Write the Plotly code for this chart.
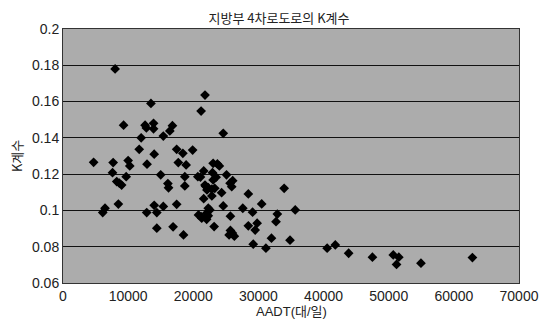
import plotly.graph_objects as go

title_text = "지방부 4차로도로의 K계수"
x_title = "AADT(대/일)"
y_title = "K계수"

aadt = [4700, 6100, 6450, 7700, 7600, 8000, 8250, 8650, 9000, 8500,
        9300, 9700, 10000, 10250, 11700, 12000, 12600, 12800, 12900, 12850,
        13500, 13900, 13900, 14000, 14000, 14400, 14400, 15000, 15400, 15400,
        16100, 16200, 16400, 16800, 16900, 17450, 17700, 17450, 18400, 18500,
        18700, 18700, 18900, 19900, 20700, 21100, 21200, 21800, 21600, 21900,
        21600, 21300, 22050, 22300, 22300, 22050, 22550, 21800, 22300, 22100,
        22850, 23300, 22850, 22950, 23050, 23500, 23050, 23700, 24000, 24350,
        23200, 24600, 24600, 25100, 25650, 25900, 26050, 25700, 25700, 26000,
        25500, 26300, 27600, 28450, 28450, 29100, 29200, 29800, 29500, 30500,
        31150, 32000, 32900, 32700, 33950, 34850, 35650, 40550, 41800, 43850,
        47500, 50700, 51550, 51200, 54950, 62850, 20800, 21200]
k_coef = [0.1265, 0.0988, 0.1012, 0.1264, 0.1208, 0.178, 0.1159, 0.115, 0.114, 0.1035,
          0.147, 0.1186, 0.1275, 0.1245, 0.1337, 0.140, 0.147, 0.1455, 0.1255, 0.0988,
          0.159, 0.148, 0.145, 0.131, 0.1028, 0.0988, 0.0902, 0.1196, 0.141, 0.1022,
          0.1148, 0.1125, 0.1438, 0.1467, 0.091, 0.1337, 0.1264, 0.1034, 0.1315, 0.0865,
          0.1186, 0.1135, 0.1251, 0.1333, 0.1186, 0.1184, 0.1548, 0.1636, 0.1218, 0.1133,
          0.1065, 0.0957, 0.0951, 0.097, 0.1012, 0.0985, 0.1003, 0.114, 0.1125, 0.1113,
          0.1117, 0.1122, 0.108, 0.1208, 0.1168, 0.1183, 0.126, 0.1256, 0.1245, 0.1098,
          0.0911, 0.1425, 0.1025, 0.1196, 0.115, 0.1131, 0.1164, 0.0968, 0.089, 0.0875,
          0.0865, 0.0858, 0.1012, 0.1091, 0.0915, 0.099, 0.0814, 0.093, 0.0892, 0.1036,
          0.0792, 0.0847, 0.098, 0.0938, 0.1122, 0.0836, 0.1003, 0.0792, 0.081, 0.0764,
          0.0742, 0.0755, 0.0742, 0.0702, 0.0709, 0.074, 0.0975, 0.0966]

x_ticks = [0, 10000, 20000, 30000, 40000, 50000, 60000, 70000]
y_ticks = [0.06, 0.08, 0.1, 0.12, 0.14, 0.16, 0.18, 0.2]
y_tick_labels = ["0.06", "0.08", "0.1", "0.12", "0.14", "0.16", "0.18", "0.2"]

FONT = "Liberation Sans, Arial, Noto Sans CJK KR, sans-serif"

fig = go.Figure()
fig.add_trace(go.Scatter(
    x=aadt, y=k_coef, mode="markers",
    marker=dict(symbol="diamond", size=7.5, color="black", line=dict(width=0)),
    showlegend=False,
))

# page body has an 8px default margin, so the figure is 8px smaller
fig.update_layout(
    width=542, height=312,
    margin=dict(l=55, r=31, t=21, b=37),
    paper_bgcolor="white",
    plot_bgcolor="#acacac",
    font=dict(family=FONT, color="black", size=14),
    title=dict(text=title_text, x=0.5, xanchor="center", y=0.966, yanchor="middle",
               font=dict(family="Noto Sans CJK KR, Liberation Sans", size=13, color="#222")),
    annotations=[
        dict(text=x_title, xref="paper", yref="paper", x=0.5, y=-0.112,
             xanchor="center", yanchor="middle", showarrow=False,
             font=dict(family="Liberation Sans, Noto Sans CJK KR", size=13, color="#222")),
        dict(text=y_title, xref="paper", yref="paper", x=-0.103, y=0.5,
             xanchor="center", yanchor="middle", textangle=-90, showarrow=False,
             font=dict(family="Noto Sans CJK KR", size=13, color="#222")),
    ],
)
fig.update_xaxes(
    range=[0, 70000], tickvals=x_ticks, ticktext=[str(v) for v in x_ticks],
    showgrid=False, zeroline=False, showline=True, linecolor="#333", linewidth=1,
    mirror=True, ticks="", tickfont=dict(size=14, color="#222"),
)
fig.update_yaxes(
    range=[0.06, 0.2], tickvals=y_ticks, ticktext=y_tick_labels,
    showgrid=True, gridcolor="#111", gridwidth=1, zeroline=False,
    showline=True, linecolor="#333", linewidth=1, mirror=True, ticks="",
    tickfont=dict(size=14, color="#222"),
)

fig.write_html("out.html")
